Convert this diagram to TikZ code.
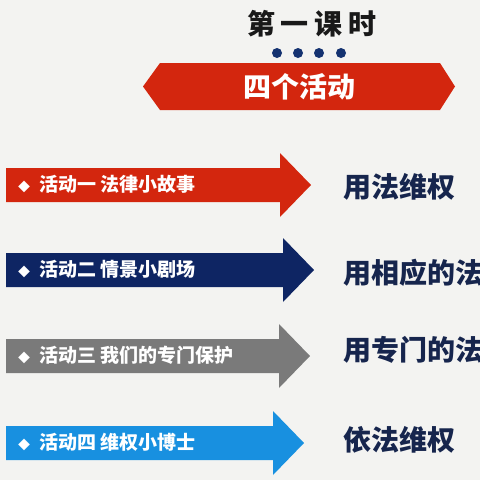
\documentclass[tikz,border=0pt]{standalone}
\usepackage{fontspec}
\usepackage{xcolor}
\usepackage{tikz}
\usetikzlibrary{positioning, calc}
\newfontfamily\cjk{Noto Sans CJK SC}
\definecolor{redact}{HTML}{D3260E}
\definecolor{navyact}{HTML}{0E2563}
\definecolor{grayact}{HTML}{7A7A7A}
\definecolor{blueact}{HTML}{1890E0}
\definecolor{inkblue}{HTML}{16254D}
\definecolor{paper}{HTML}{F3F3F1}
\definecolor{dotblue}{HTML}{143270}

\begin{document}
\begin{tikzpicture}[
  x=1pt, y=-1pt,
  every node/.style={font=\cjk\bfseries, inner sep=0pt},
  title/.style={font=\cjk\bfseries\fontsize{28}{28}\selectfont, text=black!90},
  banner/.style={fill=redact},
  acttext/.style={anchor=west, text=white, font=\cjk\bfseries\fontsize{19}{19}\selectfont},
  goal/.style={anchor=west, text=inkblue, font=\cjk\bfseries\fontsize{28}{28}\selectfont},
  dot/.style={circle, fill=dotblue, minimum size=10pt}
]
  \fill[paper] (0,0) rectangle (480,480);
  \useasboundingbox (0,0) rectangle (480,480);
  \clip (0,0) rectangle (480,480);

  % heading
  \node[title] (lesson) at (312,24) {第\hspace{6pt}一\hspace{6pt}课\hspace{6pt}时};
  \foreach \i/\x in {1/277, 2/298, 3/319, 4/341}
    \node[dot] (dot\i) at (\x,53) {};
  \fill[banner] (143,86.5) -- (160,63) -- (440,63) -- (455,86.5) -- (440,110) -- (160,110) -- cycle;
  \node[font=\cjk\bfseries\fontsize{28}{28}\selectfont, text=white] (four) at (299,87) {四个活动};

  % arrows
  \foreach \c/\yc/\xb/\col in {1/185/280/redact, 2/270/283/navyact, 3/356/279/grayact, 4/443/273/blueact}
    \fill[\col] (6,\yc-17) -- (\xb,\yc-17) -- (\xb,\yc-32) -- (\xb+31,\yc) -- (\xb,\yc+32)
      -- (\xb,\yc+17) -- (6,\yc+17) -- cycle;

  \node[acttext] (act1) at (18,184) {\fontsize{12}{12}\selectfont◆\hspace{9pt}\fontsize{19}{19}\selectfont 活动一 法律小故事};
  \node[acttext] (act2) at (18,269) {\fontsize{12}{12}\selectfont◆\hspace{9pt}\fontsize{19}{19}\selectfont 活动二 情景小剧场};
  \node[acttext] (act3) at (18,355) {\fontsize{12}{12}\selectfont◆\hspace{9pt}\fontsize{19}{19}\selectfont 活动三 我们的专门保护};
  \node[acttext] (act4) at (18,442) {\fontsize{12}{12}\selectfont◆\hspace{9pt}\fontsize{19}{19}\selectfont 活动四 维权小博士};

  % goals
  \node[goal] (goal1) at (343,187) {用法维权};
  \node[goal] (goal2) at (343,273) {用相应的法};
  \node[goal] (goal3) at (343,350) {用专门的法};
  \node[goal] (goal4) at (343,440) {依法维权};
\end{tikzpicture}
\end{document}
